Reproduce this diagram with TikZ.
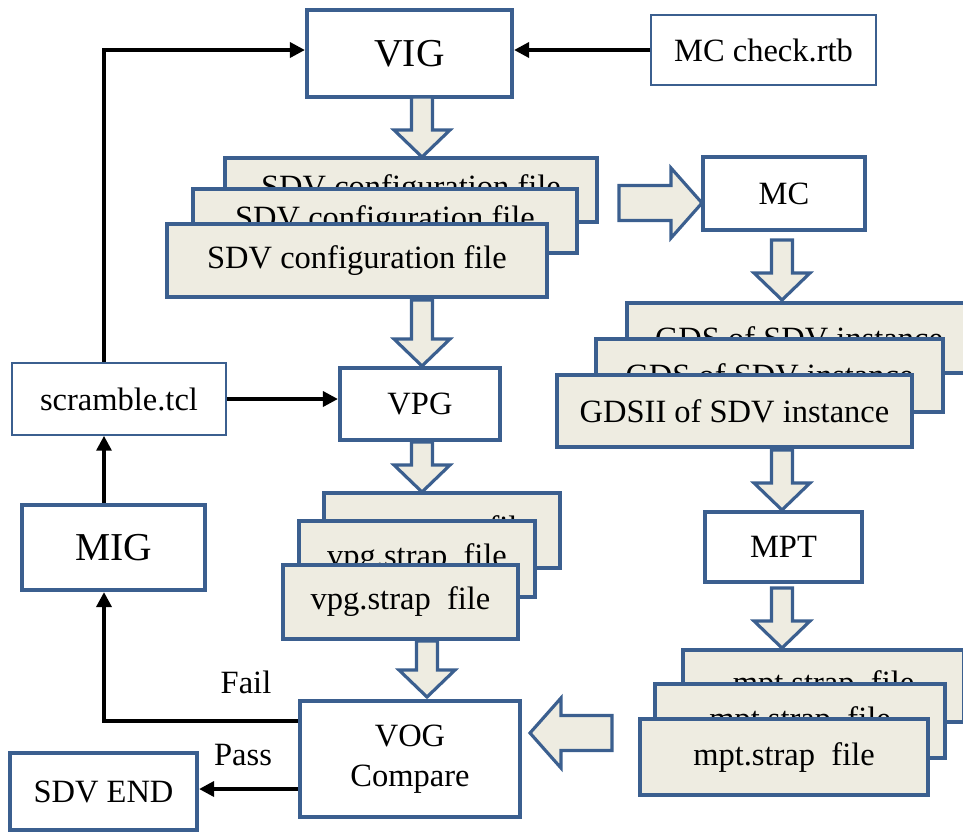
\documentclass[tikz,border=0pt]{standalone}
\usepackage{fontspec}
\setmainfont{Liberation Serif}
\usetikzlibrary{arrows.meta}

\definecolor{boxblue}{RGB}{59,95,143}
\definecolor{filltan}{RGB}{238,236,225}

\tikzset{
  box/.style={draw=boxblue, line width=2.4pt, fill=white, inner sep=0pt,
    font=\fontsize{18.5}{22}\selectfont},
  thinbox/.style={box, line width=0.9pt},
  filebox/.style={box, fill=filltan},
  bigtxt/.style={font=\fontsize{22.5}{27}\selectfont},
  lbl/.style={inner sep=0pt, font=\fontsize{18.5}{22}\selectfont},
  flow/.style={line width=2pt, -{Triangle[length=8.5pt,width=8.5pt]}},
  blk/.style={draw=boxblue, line width=1.8pt, fill=filltan, line join=miter},
  pics/bdown/.style={code={
    \draw[blk] (-10.5,0) -- (10.5,0) -- (10.5,#1-27) -- (28,#1-27) -- (0,#1)
      -- (-28,#1-27) -- (-10.5,#1-27) -- cycle;}},
  pics/bright/.style={code={
    \draw[blk] (0,-17.5) -- (#1-31,-17.5) -- (#1-31,-35) -- (#1,0)
      -- (#1-31,35) -- (#1-31,17.5) -- (0,17.5) -- cycle;}},
  pics/bleft/.style={code={
    \draw[blk] (0,-17.5) -- (31-#1,-17.5) -- (31-#1,-35) -- (-#1,0)
      -- (31-#1,35) -- (31-#1,17.5) -- (0,17.5) -- cycle;}},
}

\begin{document}
\begin{tikzpicture}[x=0.02cm, y=-0.02cm]
  \useasboundingbox (0,0) rectangle (963,833);
  \clip (0,0) rectangle (963,833);

  % left column
  \node[box, bigtxt, minimum width=4.1cm, minimum height=1.74cm] (vig) at (409.5,53.5) {VIG};
  \node[thinbox, minimum width=4.5cm, minimum height=1.4cm] (mccheck) at (763.5,50) {MC check.rtb};
  \node[filebox, minimum width=7.44cm, minimum height=1.28cm] (sdvA) at (411,190) {SDV configuration file};
  \node[filebox, minimum width=7.68cm, minimum height=1.28cm] (sdvB) at (385,221) {SDV configuration file};
  \node[filebox, minimum width=7.6cm, minimum height=1.46cm] (sdvC) at (357,260.5) {SDV configuration file};
  \node[thinbox, minimum width=4.28cm, minimum height=1.44cm] (scramble) at (119,399) {scramble.tcl};
  \node[box, minimum width=3.2cm, minimum height=1.44cm] (vpg) at (420,404) {VPG};
  \node[box, bigtxt, minimum width=3.66cm, minimum height=1.7cm] (mig) at (113.5,547.5) {MIG};
  \node[filebox, minimum width=4.72cm, minimum height=1.5cm] (vpgA) at (442,530.5) {vpg.strap~ file};
  \node[filebox, minimum width=4.72cm, minimum height=1.52cm] (vpgB) at (417,559) {vpg.strap~ file};
  \node[filebox, minimum width=4.7cm, minimum height=1.48cm] (vpgC) at (400.5,602) {vpg.strap~ file};
  \node[box, align=center, minimum width=4.4cm, minimum height=2.32cm,
    font=\fontsize{18.5}{40\dimexpr 0.567pt\relax}\selectfont] (vog) at (410,759) {VOG\\Compare};
  \node[box, minimum width=3.74cm, minimum height=1.54cm] (sdvend) at (103.5,791.5) {SDV END};

  % right column
  \node[box, minimum width=3.24cm, minimum height=1.46cm] (mc) at (784,193.5) {MC};
  \node[filebox, minimum width=6.88cm, minimum height=1.4cm] (gdsA) at (799,338) {GDS of SDV instance};
  \node[filebox, minimum width=6.94cm, minimum height=1.46cm] (gdsB) at (769.5,375.5) {GDS of SDV instance};
  \node[filebox, minimum width=7.1cm, minimum height=1.44cm] (gdsC) at (734.5,411) {GDSII of SDV instance};
  \node[box, minimum width=3.14cm, minimum height=1.4cm] (mpt) at (783.5,547) {MPT};
  \node[filebox, minimum width=5.62cm, minimum height=1.44cm] (mptA) at (823.5,686) {mpt.strap~ file};
  \node[filebox, minimum width=5.8cm, minimum height=1.48cm] (mptB) at (800,721) {mpt.strap~ file};
  \node[filebox, minimum width=5.76cm, minimum height=1.52cm] (mptC) at (784,757) {mpt.strap~ file};

  % block arrows
  \pic at (422,97) {bdown=60};
  \pic at (422,300) {bdown=66};
  \pic at (422,442) {bdown=50};
  \pic at (427,641) {bdown=56};
  \pic at (782,240) {bdown=60};
  \pic at (782,450) {bdown=60};
  \pic at (782,588) {bdown=60};
  \pic at (619,203) {bright=83};
  \pic at (612,733) {bleft=82};

  % loop lines
  \coordinate (loopx) at (104,0);
  \draw[flow] (mccheck.west) -- (mccheck.west -| vig.east);
  \draw[flow] (scramble.north -| loopx) |- (vig.west |- mccheck.west);
  \draw[flow] (scramble.east) -- (scramble.east -| vpg.west);
  \draw[flow] (mig.north -| loopx) -- (scramble.south -| loopx);
  \draw[flow] ([yshift=0.76cm]vog.west) -| (mig.south -| loopx);
  \draw[flow] ([yshift=-0.6cm]vog.west) -- ([yshift=-0.6cm]vog.west -| sdvend.east);
  \node[lbl] (fail) at (246,682) {Fail};
  \node[lbl] (pass) at (243,755) {Pass};
\end{tikzpicture}
\end{document}
